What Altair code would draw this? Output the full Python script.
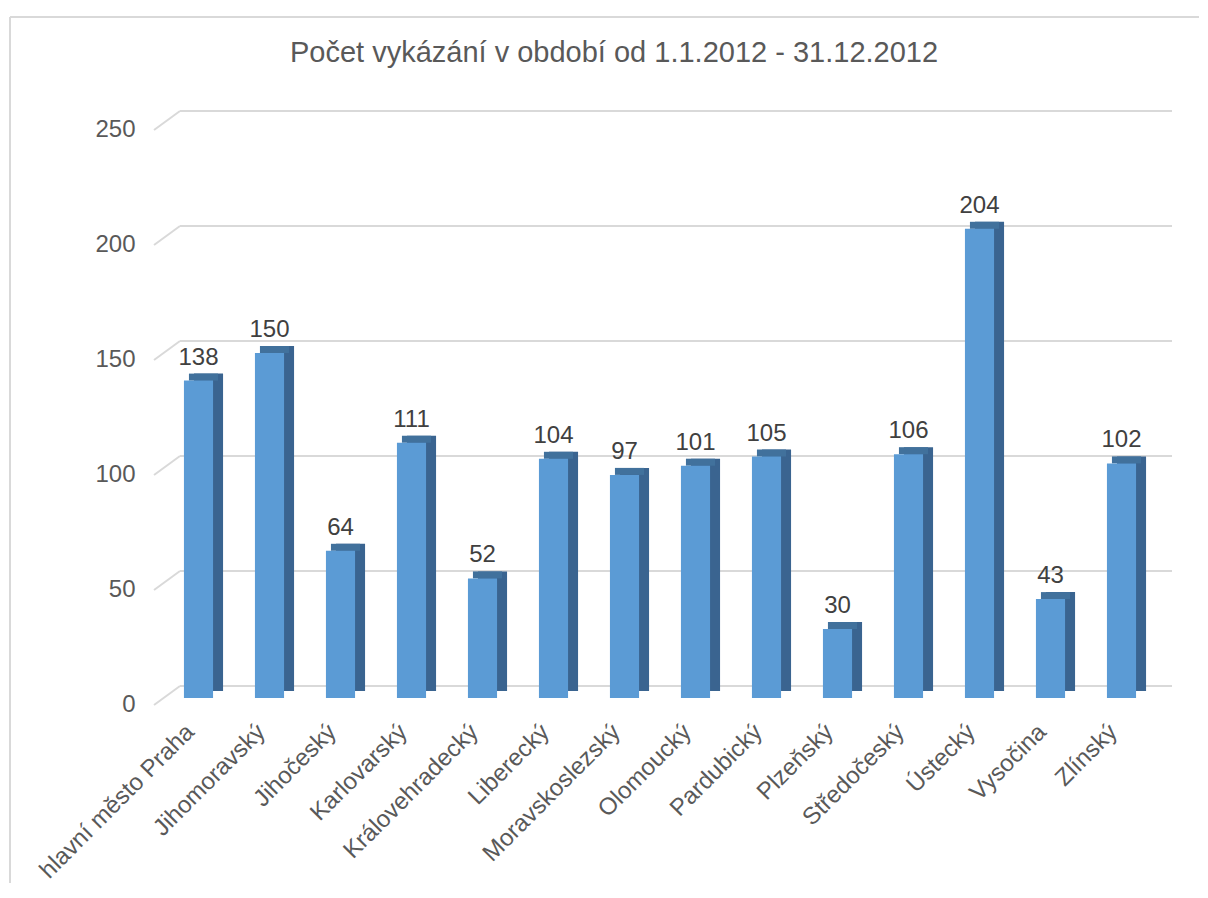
import altair as alt
import pandas as pd

regions = ["hlavní město Praha", "Jihomoravský", "Jihočeský", "Karlovarský",
           "Královehradecký", "Liberecký", "Moravskoslezský", "Olomoucký",
           "Pardubický", "Plzeňský", "Středočeský", "Ústecký", "Vysočina", "Zlínský"]
counts = [138, 150, 64, 111, 52, 104, 97, 101, 105, 30, 106, 204, 43, 102]
ticks = [0, 50, 100, 150, 200, 250]
title_text = "Počet vykázání v období od 1.1.2012 - 31.12.2012"

W, H = 994, 575
FONT = "Liberation Sans"

df = pd.DataFrame({"region": regions, "count": counts})
tdf = pd.DataFrame({"tick": ticks})
ttl = pd.DataFrame({"t": [title_text]})

yscale = alt.Scale(domain=[0, 250], nice=False)
xscale = alt.Scale(domain=regions, paddingInner=0.59, paddingOuter=0.295)

yaxis = alt.Axis(values=ticks, grid=False, domain=False, ticks=False,
                 labelPadding=28, labelOffset=6, labelFont=FONT,
                 labelFontSize=24, labelColor="#595959")

grid = alt.Chart(tdf).mark_rule(color="#d9d9d9", strokeWidth=2, yOffset=-12).encode(
    y=alt.Y("tick:Q", scale=yscale, axis=yaxis, title=None),
    x=alt.value(17), x2=alt.value(W + 15))
diag = alt.Chart(tdf).mark_rule(color="#d9d9d9", strokeWidth=2, yOffset=7, y2Offset=-12).encode(
    y=alt.Y("tick:Q", scale=yscale, axis=yaxis, title=None), y2="tick:Q",
    x=alt.value(-9), x2=alt.value(17))

border_l = alt.Chart(tdf).mark_rule(color="#d9d9d9", strokeWidth=2).encode(
    x=alt.value(-153), y=alt.value(-106), y2=alt.value(H + 300))
border_t = alt.Chart(tdf).mark_rule(color="#d9d9d9", strokeWidth=2).encode(
    x=alt.value(-153), x2=alt.value(W + 300), y=alt.value(-106))

title = alt.Chart(ttl).mark_text(font=FONT, fontSize=29, color="#595959",
                                 baseline="alphabetic", align="center").encode(
    text="t:N", x=alt.value(451), y=alt.value(-61))

base = alt.Chart(df)
xenc = alt.X("region:N", scale=xscale, sort=regions, title=None,
             axis=alt.Axis(labelAngle=-45, labelAlign="right", labelBaseline="middle",
                           labelPadding=30, labelOffset=-8, domain=False, ticks=False,
                           labelFont=FONT, labelFontSize=24, labelColor="#595959",
                           labelLimit=400))
yenc = alt.Y("count:Q", scale=yscale, title=None, axis=yaxis)

side = base.mark_bar(color="#3a6490", xOffset=10, yOffset=-7, y2Offset=-7).encode(
    x=xenc, y=yenc, y2=alt.datum(0))
top = base.mark_bar(color="#41719c", xOffset=5, yOffset=-7).encode(
    x=xenc, y=yenc, y2="count:Q")
front = base.mark_bar(color="#5b9bd5").encode(x=xenc, y=yenc, y2=alt.datum(0))
labels = base.mark_text(font=FONT, fontSize=24, color="#404040", baseline="alphabetic",
                        dy=-16).encode(x=xenc, y=yenc, text="count:Q")

chart = alt.layer(border_l, border_t, title, grid, diag, side, top, front, labels).properties(
    width=W, height=H,
    autosize=alt.AutoSizeParams(type="none"),
    padding={"left": 155, "top": 115, "right": 42, "bottom": 185},
).configure_view(stroke=None)

chart.save("out.html", embed_options={"renderer": "svg", "actions": False})
